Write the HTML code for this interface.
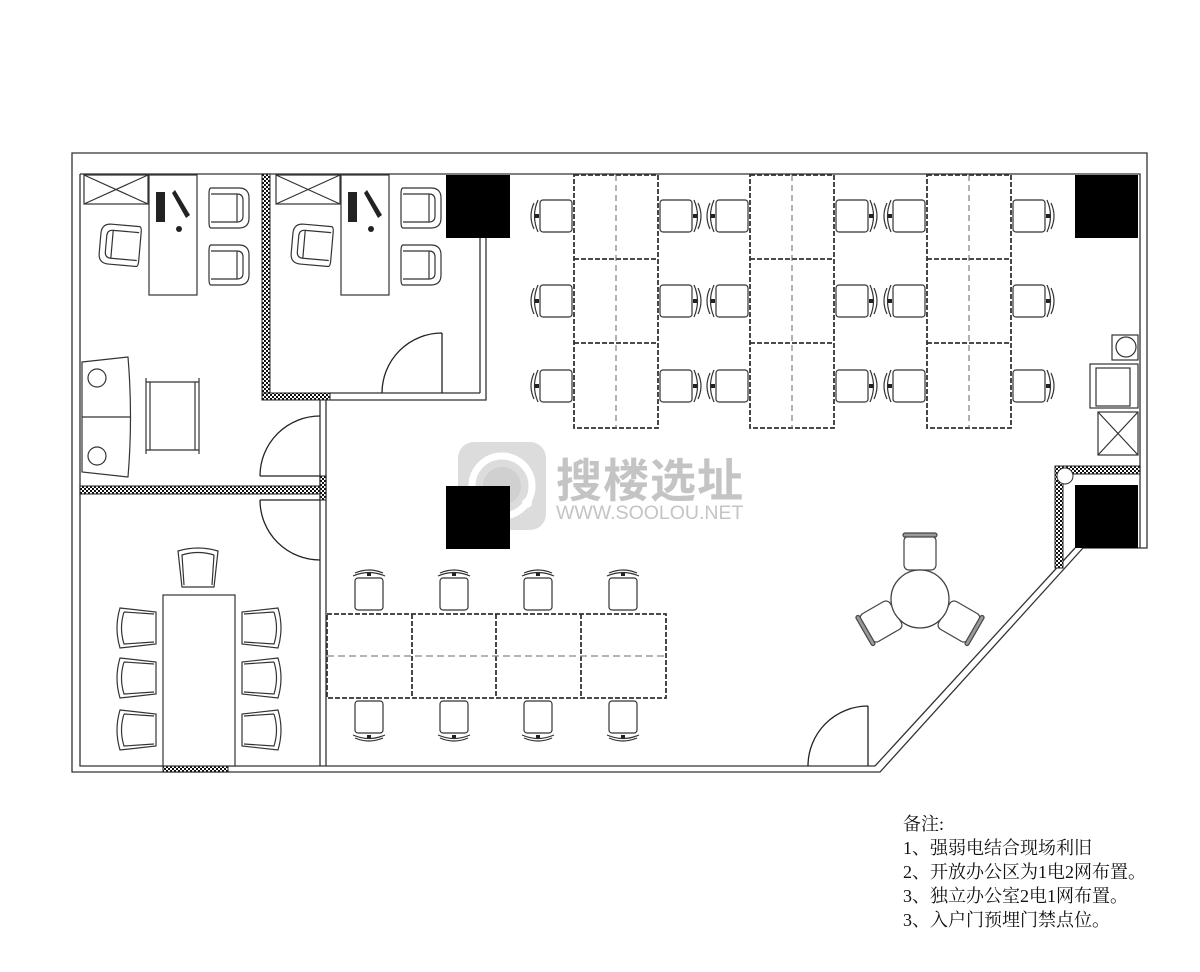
<!DOCTYPE html>
<html><head><meta charset="utf-8"><style>
html,body{margin:0;padding:0;background:#fff;width:1200px;height:972px;overflow:hidden}
svg{display:block}
</style></head><body>
<svg width="1200" height="972" viewBox="0 0 1200 972" xmlns="http://www.w3.org/2000/svg">
<defs>
<pattern id="hx" width="4" height="4" patternUnits="userSpaceOnUse">
<rect width="4" height="4" fill="#fff"/><rect width="2" height="2" fill="#111"/><rect x="2" y="2" width="2" height="2" fill="#111"/>
</pattern>
<g id="cL" fill="#fff" stroke="#333" stroke-width="1.2">
<rect x="-13" y="-16" width="32" height="32" rx="3"/>
<path d="M-15,-16 Q-22,0 -15,16 M-19,-13 Q-25,0 -19,13"/>
<rect x="-18" y="-2" width="4" height="4" fill="#222" stroke="none"/>
</g>
<g id="cR"><use href="#cL" transform="scale(-1,1)"/></g>
<g id="cT" fill="#fff" stroke="#333" stroke-width="1.2">
<rect x="-14" y="-13" width="28" height="32" rx="3"/>
<path d="M-16,-15 Q0,-22 16,-15 M-14,-18 Q0,-24 14,-18"/>
<rect x="-2" y="-18" width="4" height="3" fill="#222" stroke="none"/>
</g>
<g id="cB"><use href="#cT" transform="scale(1,-1)"/></g>
<g id="arm" fill="#fff" stroke="#333" stroke-width="1.2">
<path d="M-18,-20 L10,-20 Q20,-20 20,-10 L20,10 Q20,20 10,20 L-18,20 Q-20,20 -20,14 L-20,-14 Q-20,-20 -18,-20 Z"/>
<path d="M-18,-14 L8,-14 Q14,-14 14,-8 L14,8 Q14,14 8,14 L-18,14"/>
<path d="M8,-14 L8,14"/>
</g>
<g id="mc" fill="#fff" stroke="#333" stroke-width="1.2">
<path d="M-18,-20 L18,-16 L18,16 L-18,20 Q-24,0 -18,-20 Z"/>
<path d="M-14,-16 Q-19,0 -14,16 L16,14"/>
<path d="M-14,-16 L16,-14"/>
</g>
<g id="rc" fill="#fff" stroke="#444" stroke-width="1.2">
<rect x="-16" y="-16" width="32" height="34" rx="5"/>
<rect x="-17" y="-19" width="34" height="4" rx="2" fill="#999"/>
</g>
</defs>

<g fill="none" stroke="#333" stroke-width="1.3">
<path d="M72,153 L1147,153 L1147,548 L1083,548 L880,772 L72,772 Z"/>
<path d="M80,174 L1140,174 L1140,548"/>
<path d="M80,174 L80,766 L875,766 L1075,548"/>
<path d="M480,238 L480,393 M486,238 L486,400 L330,400 M330,393 L480,393"/>
<path d="M320,400 L320,766 M326,400 L326,766"/>
</g>
<g fill="url(#hx)" stroke="#222" stroke-width="1">
<rect x="262" y="174" width="8" height="226"/>
<rect x="262" y="393" width="68" height="7"/>
<rect x="80" y="486" width="246" height="8"/>
<rect x="320" y="476" width="6" height="24"/>
<rect x="163" y="766" width="65" height="6"/>
<rect x="1055" y="466" width="85" height="8"/>
<rect x="1055" y="466" width="8" height="102"/>
</g>
<circle cx="1065" cy="476" r="8" fill="#fff" stroke="#333"/>
<g fill="#000">
<rect x="446" y="175" width="64" height="63"/>
<rect x="1075" y="175" width="63" height="63"/>
<rect x="1075" y="485" width="63" height="63"/>
</g>
<g fill="none" stroke="#222" stroke-width="1.3">
<path d="M442,393 L442,333 M382,393 A60,60 0 0 1 442,333"/>
<path d="M320,476 L260,476 M260,476 A60,60 0 0 1 320,416"/>
<path d="M320,500 L260,500 M260,500 A60,60 0 0 0 320,560"/>
<path d="M868,766 L868,706 M808,766 A60,60 0 0 1 868,706"/>
</g>

<g fill="none" stroke="#333" stroke-width="1.2">
<rect x="84" y="175" width="64" height="29"/><path d="M84,175 L148,204 M148,175 L84,204"/>
<rect x="149" y="175" width="48" height="120"/>
<rect x="276" y="175" width="64" height="29"/><path d="M276,175 L340,204 M340,175 L276,204"/>
<rect x="341" y="175" width="48" height="120"/>
<path d="M150,382 H195 V450 H150 Z M146,378 V454 M199,378 V454 M146,382 H199 M146,450 H199"/>
<path d="M82,362 L128,357 Q133,417 128,477 L82,472 Z M82,417 L130,417"/>
<circle cx="97" cy="378" r="9"/><circle cx="97" cy="456" r="9"/>
<rect x="1112" y="335" width="26" height="25"/><circle cx="1126" cy="347" r="10"/>
<rect x="1090" y="364" width="48" height="44"/><rect x="1096" y="368" width="34" height="38"/>
<rect x="1098" y="412" width="40" height="43"/><path d="M1098,412 L1138,455 M1138,412 L1098,455"/>
</g>
<g fill="#222">
<rect x="156" y="192" width="9" height="30"/><rect x="348" y="192" width="9" height="30"/>
<path d="M175,190 L190,215 L186,218 L172,193 Z M367,190 L382,215 L378,218 L364,193 Z"/>
<circle cx="179" cy="229" r="3"/><circle cx="371" cy="229" r="3"/>
</g>
<use href="#arm" x="229" y="208"/><use href="#arm" x="229" y="265"/>
<use href="#arm" x="421" y="208"/><use href="#arm" x="421" y="265"/>
<use href="#arm" transform="translate(120,245) rotate(185)"/>
<use href="#arm" transform="translate(312,245) rotate(185)"/>

<g fill="none" stroke="#333" stroke-width="1.8" stroke-dasharray="5,2">
<rect x="574" y="175" width="84" height="253"/><path d="M574,259 H658 M574,343 H658"/>
<rect x="750" y="175" width="84" height="253"/><path d="M750,259 H834 M750,343 H834"/>
<rect x="927" y="175" width="84" height="253"/><path d="M927,259 H1011 M927,343 H1011"/>
</g>
<g fill="none" stroke="#666" stroke-width="1" stroke-dasharray="6,4">
<path d="M616,175 V428 M792,175 V428 M969,175 V428"/>
</g>
<g>
<use href="#cL" x="553" y="216"/><use href="#cL" x="553" y="301"/><use href="#cL" x="553" y="386"/>
<use href="#cR" x="679" y="216"/><use href="#cR" x="679" y="301"/><use href="#cR" x="679" y="386"/>
<use href="#cL" x="729" y="216"/><use href="#cL" x="729" y="301"/><use href="#cL" x="729" y="386"/>
<use href="#cR" x="855" y="216"/><use href="#cR" x="855" y="301"/><use href="#cR" x="855" y="386"/>
<use href="#cL" x="906" y="216"/><use href="#cL" x="906" y="301"/><use href="#cL" x="906" y="386"/>
<use href="#cR" x="1032" y="216"/><use href="#cR" x="1032" y="301"/><use href="#cR" x="1032" y="386"/>
</g>

<g fill="none" stroke="#333" stroke-width="1.8" stroke-dasharray="5,2">
<rect x="327" y="614" width="339" height="84"/><path d="M412,614 V698 M496,614 V698 M581,614 V698"/>
</g>
<path d="M327,656 H666" stroke="#888" stroke-width="1.2" stroke-dasharray="7,4" fill="none"/>
<use href="#cT" x="369" y="591"/><use href="#cT" x="454" y="591"/><use href="#cT" x="538" y="591"/><use href="#cT" x="623" y="591"/>
<use href="#cB" x="369" y="720"/><use href="#cB" x="454" y="720"/><use href="#cB" x="538" y="720"/><use href="#cB" x="623" y="720"/>

<rect x="163" y="595" width="72" height="171" fill="#fff" stroke="#333" stroke-width="1.2"/>
<use href="#mc" x="138" y="628"/><use href="#mc" x="138" y="678"/><use href="#mc" x="138" y="730"/>
<use href="#mc" transform="translate(260,628) scale(-1,1)"/><use href="#mc" transform="translate(260,678) scale(-1,1)"/><use href="#mc" transform="translate(260,730) scale(-1,1)"/>
<use href="#mc" transform="translate(198,569) rotate(90)"/>

<use href="#rc" x="920" y="552"/>
<use href="#rc" transform="translate(920,599) rotate(-120) translate(0,-46)"/>
<use href="#rc" transform="translate(920,599) rotate(120) translate(0,-46)"/>
<circle cx="920" cy="599" r="29" fill="#fff" stroke="#444" stroke-width="1.3"/>

<g opacity="0.85">
<rect x="458" y="442" width="88" height="88" rx="16" fill="#d6d6d6"/>
<circle cx="502" cy="486" r="30" fill="none" stroke="#fff" stroke-width="7"/>
<circle cx="502" cy="486" r="19" fill="#c8c8c8"/>
<circle cx="527" cy="503" r="5" fill="#fff"/>
</g>
<rect x="446" y="486" width="64" height="63" fill="#000"/>
<text x="556" y="497" font-family="'Noto Sans CJK SC',sans-serif" font-weight="bold" font-size="46" fill="#c4c4c4" letter-spacing="1">搜楼选址</text>
<text x="556" y="519" font-family="'Liberation Sans',sans-serif" font-size="19.5" fill="#c4c4c4">WWW.SOOLOU.NET</text>

<g font-family="'Liberation Serif','Noto Serif CJK SC',serif" font-size="18" fill="#111">
<text x="903" y="830">备注:</text>
<text x="903" y="854">1、强弱电结合现场利旧</text>
<text x="903" y="878">2、开放办公区为1电2网布置。</text>
<text x="903" y="902">3、独立办公室2电1网布置。</text>
<text x="903" y="926">3、入户门预埋门禁点位。</text>
</g>
</svg>
</body></html>
